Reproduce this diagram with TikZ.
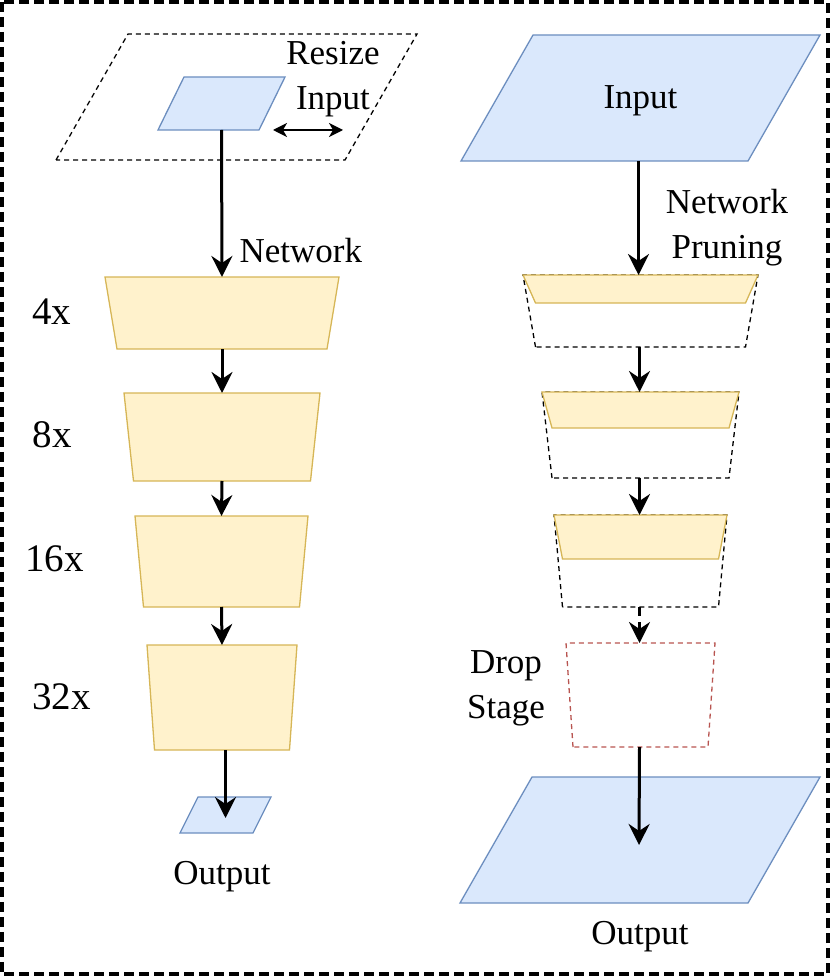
\documentclass[tikz,border=0pt]{standalone}
\usepackage{fontspec}
\setmainfont{Liberation Serif}
\usetikzlibrary{arrows.meta,backgrounds}

\definecolor{iofill}{HTML}{DAE8FC}
\definecolor{ioline}{HTML}{6C8EBF}
\definecolor{stagefill}{HTML}{FFF2CC}
\definecolor{stageline}{HTML}{D6B656}
\definecolor{dropline}{HTML}{B85450}

% trapezium drawn on a slot node: name, bottom inset, style
\newcommand{\stageshape}[3]{
    \draw[#3] ([xshift=#2]#1.south west) -- (#1.north west) -- (#1.north east) -- ([xshift=-#2]#1.south east) -- cycle;
}
% parallelogram drawn on a slot node: name, slant offset, style
\newcommand{\ioshape}[3]{
    \draw[#3] (#1.south west) -- ([xshift=#2]#1.north west) -- (#1.north east) -- ([xshift=-#2]#1.south east) -- cycle;
}

\tikzset{
    slot/.style={rectangle, inner sep=0pt, outer sep=0pt},
    iobox/.style={fill=iofill, draw=ioline, line width=1.3pt},
    stagebox/.style={fill=stagefill, draw=stageline, line width=1.3pt},
    outline/.style={draw=black, line width=1.3pt, dash pattern=on 5pt off 4pt},
    dropbox/.style={draw=dropline, line width=1.3pt, dash pattern=on 5pt off 4pt},
    flow/.style={line width=3pt, -{Stealth[length=21pt, width=21pt, inset=7pt]}},
    scaletxt/.style={font=\fontsize{39}{45}\selectfont},
}

\begin{document}
\begin{tikzpicture}[x=1pt, y=-1pt, font=\fontsize{35}{45}\selectfont]
        \useasboundingbox (0,0) rectangle (830,976);
        \draw[line width=3.6pt, dash pattern=on 10pt off 5pt] (1.8,1.8) rectangle (828.2,974.2);

        % left column: resized input through the full network
        \node[slot, minimum width=361pt, minimum height=126pt] (resize) at (236.5,97) {};
        \node[slot, minimum width=127pt, minimum height=53pt] (inL) at (221.5,103.5) {};
        \node[slot, minimum width=234pt, minimum height=72pt] (t4) at (222,313) {};
        \node[slot, minimum width=196pt, minimum height=88pt] (t8) at (222,437) {};
        \node[slot, minimum width=173pt, minimum height=91pt] (t16) at (221.5,561.5) {};
        \node[slot, minimum width=150pt, minimum height=105pt] (t32) at (222,697.5) {};
        \node[slot, minimum width=91pt, minimum height=36pt] (outL) at (225.5,815) {};

        \node[align=center] (resizetxt) at (333,79) {Resize\\Input};
        \node[anchor=west] (nettxt) at (236,251) {Network};
        \node[scaletxt] (x4) at (51.5,312) {4x};
        \node[scaletxt] (x8) at (52,435) {8x};
        \node[scaletxt] (x16) at (54.5,559) {16x};
        \node[scaletxt] (x32) at (61.5,697) {32x};
        \node (outLtxt) at (222,877) {Output};

        % right column: pruned stages
        \node[slot, minimum width=359pt, minimum height=126pt, text height=30pt, text depth=8pt] (inR) at (640.5,98) {Input};
        \node[slot, minimum width=235pt, minimum height=72pt] (s1) at (640.5,311) {};
        \node[slot, minimum width=235pt, minimum height=28pt, anchor=north] (p1) at (s1.north) {};
        \node[slot, minimum width=197pt, minimum height=86pt] (s2) at (640.5,435) {};
        \node[slot, minimum width=197pt, minimum height=36pt, anchor=north] (p2) at (s2.north) {};
        \node[slot, minimum width=173pt, minimum height=92pt] (s3) at (640.5,561) {};
        \node[slot, minimum width=173pt, minimum height=44pt, anchor=north] (p3) at (s3.north) {};
        \node[slot, minimum width=149pt, minimum height=104pt] (drop) at (640.5,695) {};
        \node[slot, minimum width=360pt, minimum height=126pt] (outR) at (640,840) {};

        \node[align=center] (prunetxt) at (727,227.5) {Network\\Pruning};
        \node[align=center] (droptxt) at (506,688) {Drop\\Stage};
        \node (outRtxt) at (640,937) {Output};

        \begin{scope}[on background layer]
            \ioshape{resize}{72pt}{outline}
            \ioshape{inL}{26pt}{iobox}
            \stageshape{t4}{12pt}{stagebox}
            \stageshape{t8}{9.5pt}{stagebox}
            \stageshape{t16}{8.5pt}{stagebox}
            \stageshape{t32}{7.5pt}{stagebox}
            \ioshape{outL}{18pt}{iobox}
            \ioshape{inR}{72pt}{iobox}
            \stageshape{s1}{12.5pt}{outline}
            \stageshape{p1}{12.5pt}{stagebox}
            \stageshape{s2}{10pt}{outline}
            \stageshape{p2}{10pt}{stagebox}
            \stageshape{s3}{8.5pt}{outline}
            \stageshape{p3}{8.5pt}{stagebox}
            \stageshape{drop}{7pt}{dropbox}
            \ioshape{outR}{72pt}{iobox}
        \end{scope}

        % connectors
        \coordinate (rsA) at (273,130);
        \coordinate (rsB) at (343,130);
        \draw[line width=1.5pt, {Stealth[length=14pt, width=14pt, inset=4pt]}-{Stealth[length=14pt, width=14pt, inset=4pt]}] (rsA) -- (rsB);
        \draw[flow] (inL.south) -- (t4.north);
        \draw[flow] (t4.south) -- (t8.north);
        \draw[flow] (t8.south) -- (t16.north);
        \draw[flow] (t16.south) -- (t32.north);
        \draw[flow] (t32.south -| outL.center) -- ([yshift=-3pt]outL.center);
        \draw[flow] ([xshift=-2pt]inR.south) -- ([xshift=-2pt]s1.north);
        \draw[flow] ([xshift=-1pt]s1.south) -- ([xshift=-1pt]s2.north);
        \draw[flow] ([xshift=-1pt]s2.south) -- ([xshift=-1pt]s3.north);
        \draw[flow, dash pattern=on 9pt off 6pt] ([xshift=-1pt]s3.south) -- ([xshift=-1pt]drop.north);
        \draw[flow] ([xshift=-1pt]drop.south) -- ([xshift=-1pt,yshift=-5pt]outR.center);
    \end{tikzpicture}
\end{document}
